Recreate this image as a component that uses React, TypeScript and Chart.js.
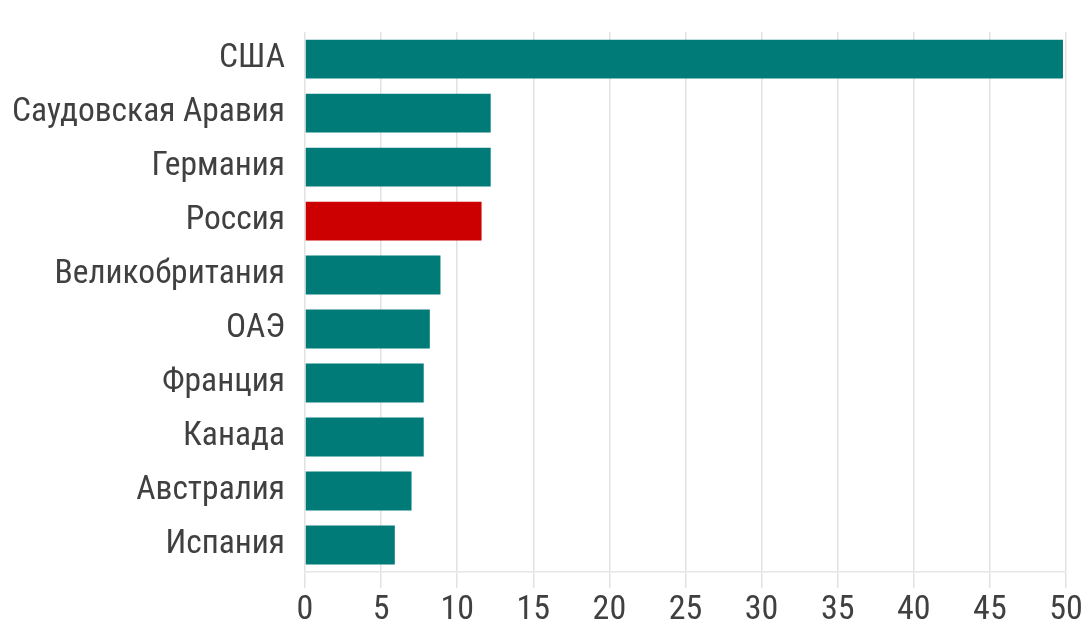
import React, { useEffect, useRef } from "react";
import { Chart, registerables } from "chart.js";

Chart.register(...registerables);

const countries = [
  "США",
  "Саудовская Аравия",
  "Германия",
  "Россия",
  "Великобритания",
  "ОАЭ",
  "Франция",
  "Канада",
  "Австралия",
  "Испания",
];
const values = [49.8, 12.2, 12.2, 11.6, 8.9, 8.2, 7.8, 7.8, 7.0, 5.9];
const highlight = "Россия";
const tealColor = "#007b78";
const redColor = "#cc0000";
const xMax = 50;
const xStep = 5;

export default function App() {
  const ref = useRef<HTMLCanvasElement | null>(null);

  useEffect(() => {
    document.body.style.margin = "0";
    if (!ref.current) return;
    const font = "'Liberation Sans Narrow', 'Arial Narrow', 'Roboto Condensed', 'Liberation Sans', sans-serif";
    const chart = new Chart(ref.current, {
      type: "bar",
      data: {
        labels: countries,
        datasets: [
          {
            data: values,
            backgroundColor: countries.map((c) => (c === highlight ? redColor : tealColor)),
            barPercentage: 0.72,
            categoryPercentage: 1,
          },
        ],
      },
      options: {
        indexAxis: "y",
        animation: false,
        responsive: true,
        maintainAspectRatio: false,
        layout: { padding: { top: 20, right: 22, left: 0, bottom: 0 } },
        plugins: { legend: { display: false }, tooltip: { enabled: false } },
        scales: {
          x: {
            min: 0,
            max: xMax,
            ticks: { stepSize: xStep, color: "#404040", font: { family: font, size: 34 }, padding: 2 },
            grid: { color: "#e2e2e2", lineWidth: 1.5, tickLength: 16, drawTicks: true },
            border: { display: true, color: "#e6e6e6", width: 1.5 },
            afterFit: (scale: any) => {
              scale.height = 54;
            },
          },
          y: {
            ticks: { color: "#404040", font: { family: font, size: 33.5 }, padding: 12 },
            grid: { display: false },
            border: { display: false },
            afterFit: (scale: any) => {
              scale.width = 305;
            },
          },
        },
      },
    });
    return () => chart.destroy();
  }, []);

  return (
    <div style={{ position: "absolute", left: 0, top: 0, width: 1088, height: 626, background: "#fff" }}>
      <canvas ref={ref} />
    </div>
  );
}
